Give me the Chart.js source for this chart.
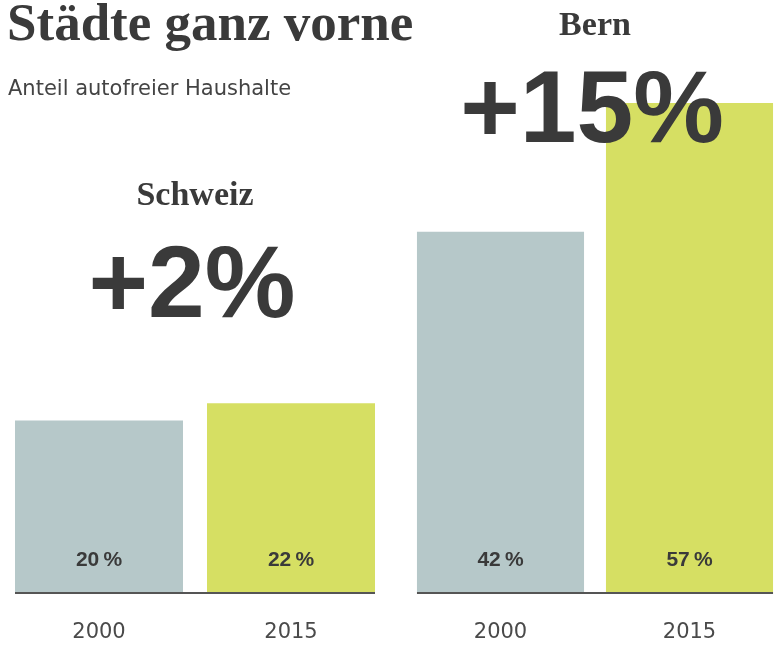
<!DOCTYPE html>
<html>
<head>
<meta charset="utf-8">
<script src="https://cdn.jsdelivr.net/npm/chart.js@4"></script>
<style>
  html, body { margin:0; padding:0; background:#fff; width:774px; height:645px; overflow:hidden; }
  #wrap { position:relative; width:774px; height:645px; overflow:hidden; }
  #title { position:absolute; left:7px; top:-8px; font-family:"Liberation Serif", serif; font-weight:bold; font-size:53px; color:#3a3a3a; white-space:nowrap; }
  #subtitle { position:absolute; left:8px; top:76px; font-family:"DejaVu Sans", sans-serif; font-size:21px; color:#444; white-space:nowrap; }
  .cv { position:absolute; top:0; height:645px; }
  #c0 { left:0; width:387px; }
  #c1 { left:387px; width:397px; }
</style>
</head>
<body>
<div id="wrap">
  <canvas id="c0" class="cv" width="387" height="645"></canvas>
  <canvas id="c1" class="cv" width="397" height="645"></canvas>
  <div id="title">Städte ganz vorne</div>
  <div id="subtitle">Anteil autofreier Haushalte</div>
</div>
<script>
// ---- data ----
const regions = ["Schweiz", "Bern"];
const years = ["2000", "2015"];
const values2000 = [20, 42];
const values2015 = [22, 57];

const barColors = ["#b6c8c9", "#d6df63"];
const dark = "#3a3a3a";

// per-chart styling (layout only)
const layouts = [
  { canvas: "c0", padLeft: 3, padRight: 0, barPct: 0.875, nameY: 205, diffY: 317 },
  { canvas: "c1", padLeft: 19, padRight: 0, barPct: 0.884, nameY: 35, diffY: 142 }
];

const overlayPlugin = {
  id: "overlay",
  afterDatasetsDraw(chart, args, opts) {
    const ctx = chart.ctx;
    const meta = chart.getDatasetMeta(0);
    const yScale = chart.scales.y;
    const y0 = yScale.getPixelForValue(0);
    ctx.save();
    const first = meta.data[0], last = meta.data[meta.data.length - 1];
    ctx.strokeStyle = "#555";
    ctx.lineWidth = 2;
    ctx.beginPath();
    ctx.moveTo(first.x - first.width / 2, y0 + 1);
    ctx.lineTo(last.x + last.width / 2, y0 + 1);
    ctx.stroke();
    ctx.fillStyle = dark;
    ctx.font = "bold 21px 'Liberation Sans', Arial, sans-serif";
    ctx.textAlign = "center";
    ctx.textBaseline = "alphabetic";
    const ds = chart.data.datasets[0].data;
    meta.data.forEach((bar, i) => {
      ctx.fillText(ds[i] + "\u2009%", bar.x, y0 - 26);
    });
    const cx = (first.x - first.width / 2 + last.x + last.width / 2) / 2;
    ctx.font = "bold 34px 'Liberation Serif', serif";
    ctx.fillText(opts.name, cx, opts.nameY);
    ctx.font = "bold 102px 'Liberation Sans', Arial, sans-serif";
    ctx.fillText(opts.diff, cx - 3, opts.diffY);
    ctx.restore();
  }
};

regions.forEach((name, i) => {
  const L = layouts[i];
  const vals = [values2000[i], values2015[i]];
  const diff = "+" + (values2015[i] - values2000[i]) + "%";
  new Chart(document.getElementById(L.canvas), {
    type: "bar",
    data: {
      labels: years,
      datasets: [{
        data: vals,
        backgroundColor: barColors,
        borderWidth: 0,
        categoryPercentage: 1,
        barPercentage: L.barPct
      }]
    },
    options: {
      responsive: false,
      animation: false,
      events: [],
      layout: { padding: { top: 30, left: L.padLeft, right: L.padRight, bottom: 1 } },
      plugins: {
        legend: { display: false },
        tooltip: { enabled: false },
        overlay: { name: name, diff: diff, nameY: L.nameY, diffY: L.diffY }
      },
      scales: {
        x: {
          grid: { display: false, drawTicks: false, tickLength: 0 },
          border: { display: false },
          afterFit: (scale) => { scale.height = 52; },
          ticks: {
            color: "#4a4a4a",
            padding: 30,
            font: { family: "'DejaVu Sans', sans-serif", size: 21, lineHeight: 1 }
          }
        },
        y: {
          display: false,
          min: 0,
          max: 65.5
        }
      }
    },
    plugins: [overlayPlugin]
  });
});
</script>
</body>
</html>
